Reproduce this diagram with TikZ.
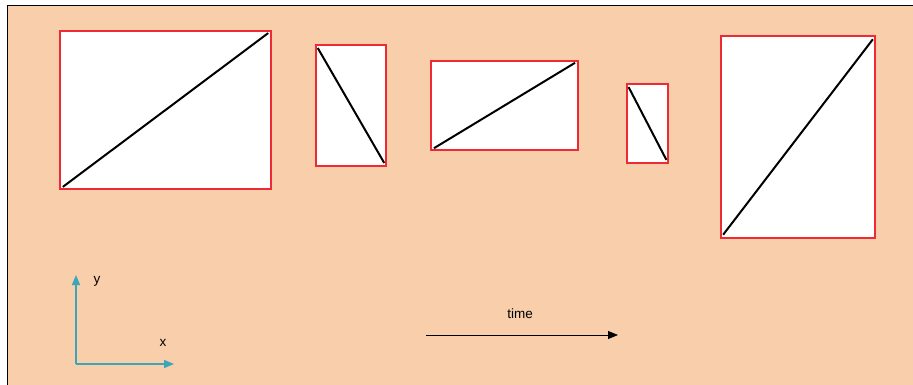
\documentclass[tikz,border=0pt]{standalone}
\usepackage{fontspec}
\setmainfont{Liberation Sans}
\usetikzlibrary{arrows.meta}
\definecolor{peach}{HTML}{F8CEAB}
\definecolor{boxred}{HTML}{EE2A35}
\definecolor{axisteal}{HTML}{3AA6B9}
\tikzset{
  panel/.style={draw=boxred, line width=2pt, fill=white, inner sep=0pt, outer sep=0pt},
  diag/.style={line width=2pt, shorten <=3.5pt, shorten >=3.5pt},
  axis/.style={draw=axisteal, line width=1.2pt, -{Triangle[length=10pt,width=8pt]}},
  lbl/.style={font=\fontsize{13.5}{15}\selectfont, inner sep=0pt}
}
\begin{document}
\begin{tikzpicture}[x=1pt,y=-1pt]
\useasboundingbox (0,0) rectangle (913,385);
\fill[peach] (7,5) rectangle (913,385);
\draw[line width=0.8pt] (7,385) -- (7,5) -- (913,5);
\node[panel, minimum width=211pt, minimum height=158pt] (a) at (165.5,110) {};
\node[panel, minimum width=70pt, minimum height=121pt] (b) at (351,105.5) {};
\node[panel, minimum width=147pt, minimum height=89pt] (c) at (504.5,105.5) {};
\node[panel, minimum width=41pt, minimum height=79pt] (d) at (647.5,123.5) {};
\node[panel, minimum width=154pt, minimum height=201pt] (e) at (798,137) {};
\draw[diag] (a.south west) -- (a.north east);
\draw[diag] (b.north west) -- (b.south east);
\draw[diag] (c.south west) -- (c.north east);
\draw[diag] (d.north west) -- (d.south east);
\draw[diag] (e.south west) -- (e.north east);
\coordinate (o) at (76,364);
\coordinate (ytip) at (76,275);
\coordinate (xtip) at (174,364);
\draw[axis] (o) -- (ytip);
\draw[axis] (o) -- (xtip);
\node[lbl] (ylbl) at (97,281) {y};
\node[lbl] (xlbl) at (163,343) {x};
\coordinate (t0) at (426,335);
\coordinate (t1) at (618,335);
\draw[line width=1pt, -{Triangle[length=10pt,width=8pt]}] (t0) -- (t1);
\node[lbl] (time) at (520,314) {time};
\end{tikzpicture}
\end{document}
